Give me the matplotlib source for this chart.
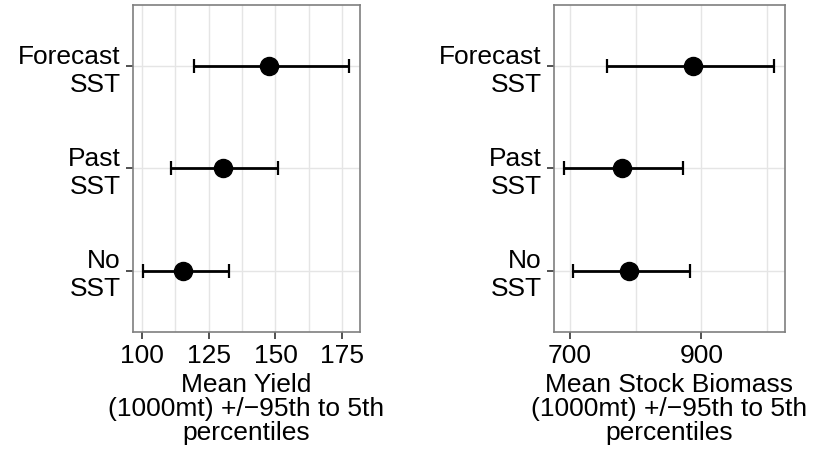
import matplotlib.pyplot as plt

plt.rcParams['font.family'] = ['Liberation Sans', 'DejaVu Sans']

labels = ["No\nSST", "Past\nSST", "Forecast\nSST"]

yield_mean = [115.4, 130.4, 147.6]
yield_lo = [100.4, 110.9, 119.5]
yield_hi = [132.6, 151.0, 177.6]
yield_ticks = [100, 125, 150, 175]
yield_minor = [112.5, 137.5, 162.5]

bio_mean = [790, 779, 888]
bio_lo = [705, 691, 757]
bio_hi = [883, 872, 1010]
bio_ticks = [700, 900]
bio_minor = [800, 1000]

fig = plt.figure(figsize=(8.13, 4.59), dpi=100)
ax1 = fig.add_axes([0.1636, 0.2767, 0.2792, 0.7124])
ax2 = fig.add_axes([0.6814, 0.2767, 0.2841, 0.7124])

border = "#7f7f7f"
grid = "#e5e5e5"
fs = 19


def panel(ax, mean, lo, hi, xlim, ticks, minor, xlabel):
    y = list(range(len(labels)))
    err = [[m - l for m, l in zip(mean, lo)], [h - m for m, h in zip(mean, hi)]]
    ax.errorbar(mean, y, xerr=err, fmt='o', color='black', ms=13,
                elinewidth=2, capsize=5, capthick=1.6, zorder=3)
    ax.set_xlim(xlim)
    ax.set_ylim(-0.6, 2.6)
    ax.set_yticks(y)
    ax.set_yticklabels(labels, fontsize=fs, linespacing=1.2)
    ax.set_xticks(ticks)
    ax.set_xticks(minor, minor=True)
    ax.tick_params(axis='both', which='major', labelsize=fs, length=5,
                   width=1.2, color='#333333', pad=4)
    ax.tick_params(axis='x', which='minor', length=0)
    ax.grid(True, which='both', color=grid, lw=1, zorder=0)
    ax.set_axisbelow(True)
    for s in ax.spines.values():
        s.set_color(border)
        s.set_linewidth(1.2)
    ax.set_xlabel(xlabel, fontsize=fs, linespacing=1.0, labelpad=3)


panel(ax1, yield_mean, yield_lo, yield_hi, (96.6, 181.7), yield_ticks, yield_minor,
      "Mean Yield\n(1000mt) +/\u221295th to 5th\npercentiles")
panel(ax2, bio_mean, bio_lo, bio_hi, (676, 1027), bio_ticks, bio_minor,
      "Mean Stock Biomass\n(1000mt) +/\u221295th to 5th\npercentiles")

fig.savefig("out.png", dpi=100)
